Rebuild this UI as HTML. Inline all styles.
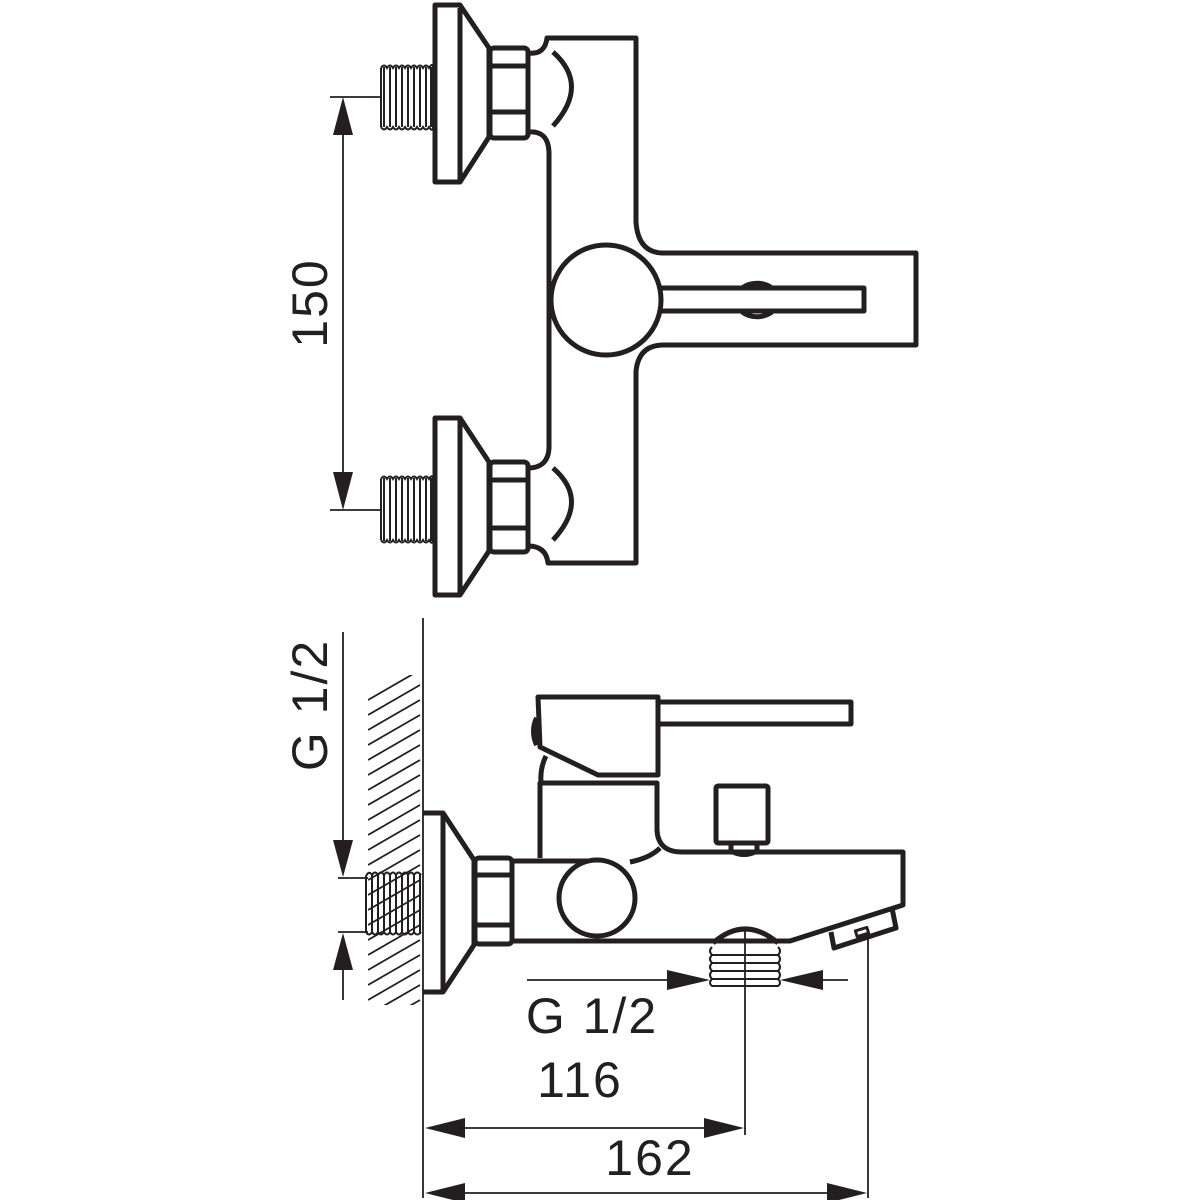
<!DOCTYPE html>
<html><head><meta charset="utf-8"><style>
html,body{margin:0;padding:0;background:#fff}
svg{display:block}
text{font-family:"Liberation Sans",sans-serif;fill:#231f20}
</style></head><body>
<svg width="1200" height="1200" viewBox="0 0 1200 1200" xmlns="http://www.w3.org/2000/svg">
<defs>
<clipPath id="hc"><rect x="368" y="675" width="53" height="330"/></clipPath>
</defs>
<g fill="none" stroke="#231f20" stroke-width="5" stroke-linejoin="round">
<path d="M435 5 H460 L489 48 V137 L460 182 H435 Z"/>
<line x1="460" y1="8" x2="460" y2="180"/>
<rect x="490" y="48" width="38" height="90" rx="4"/>
<line x1="490" y1="66" x2="528" y2="66"/><line x1="490" y1="112" x2="528" y2="112"/>
<path d="M435 418 H460 L489 462 V551 L460 595 H435 Z"/>
<line x1="460" y1="420" x2="460" y2="593"/>
<rect x="490" y="462" width="38" height="90" rx="4"/>
<line x1="490" y1="480" x2="528" y2="480"/><line x1="490" y1="528" x2="528" y2="528"/>
<path d="M528 53 Q545 55 547 38 H636 V222 Q638 252 662 253 H916 V345 H662 Q638 346 636 372 V563 H548 Q546 546 528 546"/>
<path d="M528 132 Q548 130 549 152 V448 Q548 468 528 468"/>
<path d="M553 52 Q590 85 553 126"/>
<path d="M553 468 Q590 500 553 540"/>
<circle cx="606" cy="300" r="55" fill="#fff"/>
<path d="M742 288 A26 26 0 0 1 772 288"/><path d="M742 312 A26 26 0 0 0 772 312"/>
<path d="M660 288 H864 V311 H660" fill="none"/>
<path d="M423 813 H443 L474 860 V945 L443 992 H423"/>
<line x1="443" y1="815" x2="443" y2="990"/>
<rect x="475" y="858" width="37" height="86" rx="4"/>
<line x1="475" y1="875" x2="512" y2="875"/><line x1="475" y1="925" x2="512" y2="925"/>
<path d="M538 697 H658 V775 H598 L540 747 Z"/>
<path d="M658 702 H851 V724 H658"/>
<path d="M537 718 Q531 731 537 745" stroke-width="6"/>
<path d="M546 756 Q540 768 541 782"/>
<path d="M540 858 V783 H657 V830 Q658 852 682 852 H903 V905 L790 941 H512"/>
<path d="M512 861 H596"/>
<path d="M630 862 Q650 858 660 848"/>
<circle cx="597" cy="898" r="38" fill="#fff"/>
<rect x="716" y="786" width="52" height="57" rx="2"/>
<path d="M731 845 V851 Q744 858 757 851 V845"/>
<path d="M831 932 L834 948 L896 928 L892 908"/>
<rect x="856" y="929" width="12" height="6" stroke-width="3" transform="rotate(-17 862 932)"/>
<path d="M713 943 Q745 915 778 943"/>
</g>
<g stroke="#231f20" stroke-width="2" fill="none">
<path d="M381 68 V127 M433 66 V128"/>
<path d="M384 67 V127 M390 67 V127 M396 67 V127 M402 67 V127 M408 67 V127 M414 67 V127 M420 67 V127 M426 67 V127 M431 67 V127"/>
<path d="M381 68 Q384 63 387 68 Q390 63 393 68 Q396 63 399 68 Q402 63 405 68 Q408 63 411 68 Q414 63 417 68 Q420 63 423 68 Q426 63 429 68 Q432 63 433 66"/>
<path d="M381 127 Q384 132 387 127 Q390 132 393 127 Q396 132 399 127 Q402 132 405 127 Q408 132 411 127 Q414 132 417 127 Q420 132 423 127 Q426 132 429 127 Q432 132 433 128"/>
<path d="M384 478 V541 M390 478 V541 M396 478 V541 M402 478 V541 M408 478 V541 M414 478 V541 M420 478 V541 M426 478 V541 M431 478 V541 M381 479 V540 M433 478 V541"/>
<path d="M381 479 Q384 474 387 479 Q390 474 393 479 Q396 474 399 479 Q402 474 405 479 Q408 474 411 479 Q414 474 417 479 Q420 474 423 479 Q426 474 429 479 Q432 474 433 478"/>
<path d="M381 540 Q384 545 387 540 Q390 545 393 540 Q396 545 399 540 Q402 545 405 540 Q408 545 411 540 Q414 545 417 540 Q420 545 423 540 Q426 545 429 540 Q432 545 433 541"/>
<path d="M366 876 V932 M372 874 V934 M378 874 V934 M384 874 V934 M390 874 V934 M396 874 V934 M402 874 V934 M408 874 V934 M414 874 V934 M420 874 V934"/>
<path d="M366 876 Q369 870 372 875 Q375 870 378 875 Q381 870 384 875 Q387 870 390 875 Q393 870 396 875 Q399 870 402 875 Q405 870 408 875 Q411 870 414 875 Q417 870 421 875"/>
<path d="M366 932 Q369 937 372 932 Q375 937 378 932 Q381 937 384 932 Q387 937 390 932 Q393 937 396 932 Q399 937 402 932 Q405 937 408 932 Q411 937 414 932 Q417 937 421 932"/>
<path d="M712 947 Q708 951 712 955 Q708 959 712 963 Q708 967 712 971 Q708 975 712 979 Q708 983 712 986 H778 Q782 983 778 979 Q782 975 778 971 Q782 967 778 963 Q782 959 778 955 Q782 951 778 947"/>
<path d="M712 955 H778 M712 963 H778 M712 971 H778 M712 979 H778"/>
<g clip-path="url(#hc)" stroke-width="1.8">
<path d="M368 700 L420 670 M368 715 L420 685 M368 730 L420 700 M368 745 L420 715 M368 760 L420 730 M368 775 L420 745 M368 790 L420 760 M368 805 L420 775 M368 820 L420 790 M368 835 L420 805 M368 850 L420 820 M368 865 L420 835 M368 880 L420 850 M368 895 L420 865 M368 910 L420 880 M368 925 L420 895 M368 940 L420 910 M368 955 L420 925 M368 970 L420 940 M368 985 L420 955 M368 1000 L420 970 M368 1015 L420 985 M368 1030 L420 1000"/>
</g>
</g>
<g stroke="#231f20" stroke-width="1.8" fill="none">
<line x1="330" y1="97" x2="382" y2="97"/><line x1="330" y1="510" x2="382" y2="510"/>
<line x1="343" y1="130" x2="343" y2="478"/>
<line x1="423" y1="618" x2="423" y2="1198"/>
<line x1="343" y1="632" x2="343" y2="845"/>
<line x1="338" y1="878" x2="368" y2="878"/><line x1="338" y1="932" x2="368" y2="932"/>
<line x1="343" y1="965" x2="343" y2="1000"/>
<line x1="527" y1="980" x2="670" y2="980"/><line x1="818" y1="980" x2="848" y2="980"/>
<line x1="745" y1="930" x2="745" y2="1135"/>
<line x1="868" y1="930" x2="868" y2="1198"/>
<line x1="460" y1="1128" x2="705" y2="1128"/>
<line x1="460" y1="1193" x2="830" y2="1193"/>
</g>
<g fill="#231f20">
<path d="M343 97 L333 135 L353 135 Z"/>
<path d="M343 510 L333 472 L353 472 Z"/>
<path d="M343 877 L333 840 L353 840 Z"/>
<path d="M343 933 L333 970 L353 970 Z"/>
<path d="M710 980 L667 970 L667 990 Z"/>
<path d="M780 980 L823 970 L823 990 Z"/>
<path d="M425 1128 L465 1118 L465 1138 Z"/>
<path d="M744 1128 L704 1118 L704 1138 Z"/>
<path d="M425 1193 L465 1183 L465 1203 Z"/>
<path d="M867 1193 L827 1183 L827 1203 Z"/>
</g>
<g font-size="50">
<text x="0" y="0" transform="translate(327 303) rotate(-90)" text-anchor="middle" letter-spacing="2">150</text>
<text x="0" y="0" transform="translate(327 705) rotate(-90)" text-anchor="middle" letter-spacing="2">G 1/2</text>
<text x="592" y="1033" text-anchor="middle" letter-spacing="2">G 1/2</text>
<text x="580" y="1097" text-anchor="middle" letter-spacing="2">116</text>
<text x="650" y="1175" text-anchor="middle" letter-spacing="2">162</text>
</g>
</svg>
</body></html>
